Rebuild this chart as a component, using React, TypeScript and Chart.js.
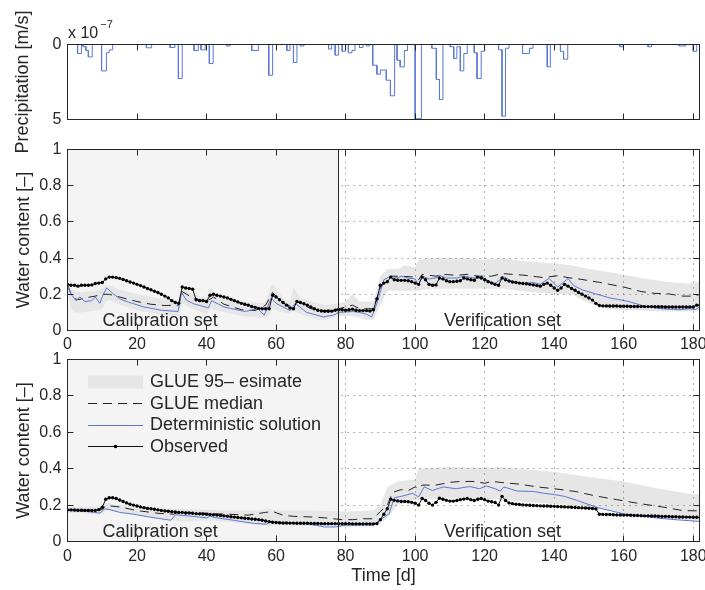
import React, { useEffect, useRef } from "react";
import { Chart, registerables } from "chart.js";

Chart.register(...registerables);

const FONT_FAMILY = "'Liberation Sans', Arial, Helvetica, sans-serif";
const INK = "#262626";
const BLUE = "#5a78d4";
const BAND = "#e6e6e6";
const CAL_BG = "#f4f4f4";
const GRID = "rgba(60,60,60,0.75)";

const CANVAS_W = 705;
const CANVAS_H = 590;
const PLOT_LEFT = 67.5;
const RIGHT_PAD = 5.5;
const TICK = 6;

const PRECIP_AREA = { top: 44.5, bottom: 119.5 };
const MID_AREA = { top: 149.5, bottom: 330.5 };
const BOT_AREA = { top: 359.5, bottom: 541.5 };

// ---------- axes / labels ----------
const X_MAX = 181.8;
const CAL_END_DAY = 78;
const X_TICKS = [0, 20, 40, 60, 80, 100, 120, 140, 160, 180];
const X_GRID = [80, 100, 120, 140, 160, 180];
const Y_TICKS = [0, 0.2, 0.4, 0.6, 0.8, 1];
const Y_GRID = [0.2, 0.4, 0.6, 0.8];
const PRECIP_TICKS = [0, 5];

const PRECIP_TITLE = "Precipitation [m/s]";
const PRECIP_EXP_BASE = "x 10";
const PRECIP_EXP = "\u22127";
const WATER_TITLE = "Water content [\u2013]";
const TIME_TITLE = "Time [d]";
const CAL_LABEL = "Calibration set";
const VER_LABEL = "Verification set";
const LEGEND_LABELS = ["GLUE 95\u2013 esimate", "GLUE median", "Deterministic solution", "Observed"];

// ---------- precipitation (x 1e-7 m/s) ----------
const precipStart = [2.9, 4.5, 5.3, 6.0, 9.8, 11.2, 12.0, 22.7, 29.5, 31.9, 36.4, 38.4, 40.8, 45.8, 53.0, 57.9, 63.1, 65.0, 67.0, 75.1, 77.0, 79.0, 80.8, 81.8, 84.0, 86.0, 87.8, 89.0, 90.0, 91.7, 92.9, 94.8, 95.7, 96.9, 100.0, 104.8, 106.1, 107.0, 110.1, 111.1, 112.0, 113.0, 114.0, 117.0, 117.8, 119.0, 124.0, 125.0, 126.0, 130.9, 132.9, 138.0, 141.8, 142.7, 158.9, 167.0, 175.9, 180.0];
const precipEnd = [4.0, 5.3, 6.0, 7.1, 11.2, 12.0, 13.0, 24.2, 30.9, 33.0, 37.6, 39.6, 41.9, 46.8, 54.9, 59.0, 64.0, 66.0, 68.0, 76.0, 78.0, 80.0, 81.8, 82.7, 85.0, 86.9, 89.0, 90.0, 91.7, 92.9, 94.1, 95.7, 96.9, 97.8, 101.8, 106.1, 107.0, 108.0, 111.1, 112.0, 113.0, 114.0, 115.0, 117.8, 119.0, 120.0, 125.0, 126.0, 127.0, 132.9, 133.9, 138.9, 142.7, 143.9, 159.8, 168.0, 177.8, 181.0];
const precipRate = [0.6, 0.15, 0.4, 0.83, 1.76, 0.55, 0.36, 0.22, 0.2, 2.27, 0.4, 0.35, 1.27, 0.1, 0.4, 2.05, 0.4, 1.2, 0.1, 0.3, 0.71, 0.45, 0.56, 0.4, 0.2, 0.1, 1.38, 1.98, 1.7, 2.38, 3.42, 1.05, 1.49, 0.4, 4.95, 0.25, 2.33, 3.67, 0.15, 0.93, 0.15, 1.76, 0.6, 0.55, 2.27, 0.45, 0.35, 4.78, 0.25, 0.6, 0.25, 1.49, 0.45, 0.98, 0.15, 0.15, 0.1, 0.45];
const PRECIP_END_DAY = 182;

// ---------- middle panel ----------
const midObserved = [
  0.255, 0.25, 0.25, 0.245, 0.25, 0.25, 0.25, 0.252, 0.26, 0.262,
  0.265, 0.285, 0.295, 0.295, 0.292, 0.288, 0.282, 0.275, 0.268, 0.262,
  0.255, 0.248, 0.24, 0.232, 0.225, 0.217, 0.21, 0.2, 0.19, 0.18,
  0.165, 0.155, 0.15, 0.24, 0.235, 0.232, 0.228, 0.17, 0.165, 0.165,
  0.16, 0.195, 0.2, 0.195, 0.19, 0.185, 0.18, 0.172, 0.165, 0.158,
  0.15, 0.145, 0.14, 0.133, 0.128, 0.122, 0.12, 0.12, 0.12, 0.195,
  0.185, 0.17, 0.155, 0.14, 0.125, 0.12, 0.16, 0.155, 0.148, 0.14,
  0.13, 0.12, 0.112, 0.108, 0.106, 0.106, 0.107, 0.112, 0.115, 0.115,
  0.112, 0.115, 0.118, 0.112, 0.11, 0.11, 0.11, 0.108, 0.115, 0.175,
  0.25, 0.262, 0.27, 0.295, 0.28, 0.278, 0.277, 0.277, 0.275, 0.27,
  0.262, 0.255, 0.295, 0.28, 0.255, 0.25, 0.252, 0.29, 0.285, 0.275,
  0.27, 0.27, 0.272, 0.275, 0.29, 0.285, 0.28, 0.278, 0.295, 0.29,
  0.28, 0.27, 0.262, 0.255, 0.25, 0.29, 0.28, 0.273, 0.268, 0.265,
  0.262, 0.26, 0.258, 0.255, 0.252, 0.248, 0.245, 0.255, 0.262, 0.25,
  0.235, 0.222, 0.235, 0.255, 0.245, 0.232, 0.222, 0.21, 0.2, 0.19,
  0.18, 0.168, 0.15, 0.138, 0.136, 0.136, 0.135, 0.135, 0.135, 0.134,
  0.134, 0.134, 0.133, 0.133, 0.133, 0.132, 0.132, 0.132, 0.132, 0.131,
  0.131, 0.131, 0.13, 0.13, 0.13, 0.13, 0.13, 0.13, 0.13, 0.13,
  0.13, 0.14, 0.14,
];
const midDetDays = [0, 1, 2.5, 3.5, 5, 7, 8, 9.3, 10.3, 11.3, 13, 15, 17.5, 22, 27, 31.8, 32.8, 34.2, 36.2, 40.5, 41.5, 45, 51, 54.7, 56.6, 58.6, 60, 64, 65.5, 68.8, 73.6, 76.5, 78, 82, 84, 86, 87.5, 89, 91, 93, 95, 96, 98, 100, 101, 102, 104, 106, 107, 109, 112, 114, 117, 119, 121, 123, 125.5, 128, 131, 134, 136, 138.5, 141, 144, 145.5, 148, 151.5, 156, 161, 166, 171, 176, 179, 180.5, 182];
const midDetVals = [0.25, 0.2, 0.165, 0.185, 0.16, 0.165, 0.185, 0.15, 0.2, 0.235, 0.205, 0.175, 0.157, 0.13, 0.112, 0.105, 0.21, 0.168, 0.148, 0.125, 0.165, 0.13, 0.105, 0.12, 0.085, 0.18, 0.15, 0.11, 0.15, 0.1, 0.075, 0.085, 0.1, 0.105, 0.1, 0.09, 0.075, 0.15, 0.28, 0.3, 0.29, 0.3, 0.29, 0.285, 0.25, 0.3, 0.285, 0.29, 0.305, 0.29, 0.29, 0.3, 0.29, 0.3, 0.275, 0.26, 0.297, 0.27, 0.26, 0.265, 0.255, 0.288, 0.24, 0.288, 0.25, 0.225, 0.205, 0.18, 0.162, 0.135, 0.12, 0.115, 0.12, 0.115, 0.13];
const midMedDays = [0, 1.5, 3, 5, 8, 10, 12, 14, 17, 20, 24, 28, 32, 33, 36, 40, 42, 45, 50, 54, 57, 59, 62, 65, 66, 70, 74, 78, 80, 82, 84, 88, 90, 93, 96, 100, 101, 102, 106, 108, 112, 115, 118, 122, 125, 128, 131, 135, 137, 141, 144, 148, 153, 160, 165, 169, 173, 177, 180, 182];
const midMedVals = [0.25, 0.18, 0.17, 0.18, 0.19, 0.2, 0.2, 0.19, 0.175, 0.16, 0.145, 0.138, 0.14, 0.215, 0.18, 0.16, 0.185, 0.145, 0.115, 0.11, 0.14, 0.21, 0.15, 0.13, 0.16, 0.12, 0.11, 0.12, 0.13, 0.14, 0.12, 0.12, 0.24, 0.3, 0.3, 0.295, 0.28, 0.31, 0.3, 0.31, 0.305, 0.31, 0.3, 0.3, 0.315, 0.31, 0.306, 0.297, 0.292, 0.303, 0.292, 0.282, 0.266, 0.24, 0.215, 0.205, 0.202, 0.19, 0.19, 0.2];
const midBandDays = [0, 1, 2, 4, 8, 10, 11, 12, 14, 20, 26, 31, 32, 33, 36, 40, 41, 43, 50, 56, 57, 58, 59, 62, 64, 65, 67, 72, 74, 78, 80, 82, 84, 86, 88, 90, 92, 95, 97, 100, 101, 104, 110, 115, 120, 125, 130, 140, 145, 150, 155, 158, 165, 172, 178, 182];
const midBandUpper = [0.26, 0.23, 0.22, 0.21, 0.22, 0.23, 0.25, 0.25, 0.23, 0.2, 0.18, 0.17, 0.17, 0.24, 0.2, 0.18, 0.24, 0.2, 0.16, 0.15, 0.16, 0.22, 0.26, 0.18, 0.16, 0.24, 0.18, 0.15, 0.14, 0.15, 0.16, 0.2, 0.16, 0.16, 0.16, 0.3, 0.34, 0.34, 0.36, 0.35, 0.39, 0.4, 0.4, 0.4, 0.39, 0.4, 0.385, 0.37, 0.36, 0.34, 0.325, 0.315, 0.29, 0.27, 0.26, 0.27];
const midBandLower = [0.22, 0.12, 0.1, 0.1, 0.11, 0.12, 0.16, 0.17, 0.15, 0.11, 0.09, 0.08, 0.08, 0.15, 0.12, 0.09, 0.12, 0.11, 0.08, 0.07, 0.07, 0.08, 0.12, 0.1, 0.09, 0.11, 0.09, 0.06, 0.06, 0.08, 0.08, 0.08, 0.07, 0.06, 0.06, 0.14, 0.22, 0.22, 0.22, 0.22, 0.22, 0.23, 0.23, 0.23, 0.23, 0.23, 0.22, 0.2, 0.2, 0.15, 0.12, 0.115, 0.11, 0.105, 0.105, 0.11];

// ---------- bottom panel ----------
const botObserved = [
  0.174, 0.174, 0.173, 0.172, 0.172, 0.171, 0.17, 0.17, 0.171, 0.175,
  0.188, 0.232, 0.24, 0.24, 0.236, 0.228, 0.22, 0.212, 0.205, 0.2,
  0.195, 0.19, 0.186, 0.182, 0.18, 0.177, 0.174, 0.171, 0.168, 0.166,
  0.164, 0.162, 0.16, 0.159, 0.157, 0.157, 0.155, 0.153, 0.152, 0.151,
  0.15, 0.148, 0.147, 0.145, 0.143, 0.141, 0.139, 0.136, 0.134, 0.132,
  0.13, 0.128, 0.126, 0.124, 0.122, 0.12, 0.117, 0.113, 0.109, 0.106,
  0.104, 0.103, 0.102, 0.102, 0.101, 0.101, 0.1, 0.1, 0.1, 0.1,
  0.099, 0.099, 0.099, 0.098, 0.098, 0.098, 0.098, 0.098, 0.098, 0.098,
  0.098, 0.098, 0.097, 0.097, 0.097, 0.097, 0.097, 0.097, 0.097, 0.098,
  0.12, 0.15, 0.18, 0.232, 0.226, 0.223, 0.22, 0.22, 0.218, 0.215,
  0.21, 0.2, 0.236, 0.225, 0.21, 0.2, 0.215, 0.238, 0.232, 0.226,
  0.222, 0.222, 0.225, 0.23, 0.233, 0.236, 0.23, 0.225, 0.232, 0.236,
  0.23, 0.222, 0.218, 0.214, 0.2, 0.248, 0.225, 0.212, 0.208, 0.205,
  0.203, 0.201, 0.2, 0.199, 0.198, 0.197, 0.196, 0.195, 0.195, 0.194,
  0.193, 0.192, 0.191, 0.19, 0.189, 0.188, 0.187, 0.186, 0.185, 0.184,
  0.183, 0.181, 0.179, 0.15, 0.149, 0.148, 0.148, 0.147, 0.146, 0.146,
  0.145, 0.145, 0.144, 0.143, 0.143, 0.142, 0.141, 0.141, 0.14, 0.14,
  0.139, 0.138, 0.138, 0.137, 0.136, 0.136, 0.135, 0.135, 0.134, 0.134,
  0.133, 0.133, 0.132,
];
const botDetDays = [0, 5.5, 9.3, 10.8, 12.2, 15, 19, 23.7, 29.7, 31.1, 35, 38, 40, 41, 42, 47.7, 53.4, 57.3, 58.3, 62, 69, 74, 77, 80, 88, 89.6, 92.5, 94, 96.4, 99.2, 101, 102.6, 105, 108, 111.8, 115.7, 118.5, 120.5, 123, 124.5, 125.5, 129.4, 134, 137, 140, 143, 146.7, 152.3, 160, 170, 175.5, 182];
const botDetVals = [0.17, 0.165, 0.156, 0.18, 0.175, 0.16, 0.15, 0.134, 0.117, 0.147, 0.14, 0.134, 0.13, 0.14, 0.133, 0.117, 0.1, 0.095, 0.108, 0.1, 0.097, 0.08, 0.08, 0.09, 0.09, 0.115, 0.152, 0.24, 0.25, 0.265, 0.245, 0.3, 0.28, 0.3, 0.29, 0.302, 0.29, 0.305, 0.29, 0.277, 0.3, 0.277, 0.275, 0.265, 0.258, 0.248, 0.225, 0.187, 0.152, 0.128, 0.119, 0.11];
const botMedDays = [0, 10, 11, 15, 20, 26, 30.5, 32, 35, 40, 43, 46, 52, 57, 59, 62, 65, 70, 74, 79, 82, 85, 88, 90, 92, 93.5, 96, 98, 100, 101, 102, 106, 110, 113, 117, 120, 122, 126, 130, 135, 140, 146, 152, 158, 164, 171, 177, 182];
const botMedVals = [0.17, 0.175, 0.198, 0.19, 0.17, 0.155, 0.15, 0.162, 0.16, 0.155, 0.152, 0.15, 0.145, 0.16, 0.165, 0.145, 0.138, 0.135, 0.13, 0.12, 0.12, 0.125, 0.125, 0.165, 0.2, 0.27, 0.285, 0.28, 0.3, 0.29, 0.31, 0.31, 0.325, 0.33, 0.33, 0.32, 0.33, 0.322, 0.315, 0.3, 0.29, 0.275, 0.25, 0.23, 0.21, 0.19, 0.17, 0.168];
const botBandDays = [0, 10, 11, 15, 25, 33, 40, 45, 55, 58, 60, 70, 80, 88, 90, 92, 95, 100, 101, 110, 120, 125, 130, 141, 150, 160, 170, 180, 182];
const botBandUpper = [0.19, 0.19, 0.21, 0.2, 0.18, 0.18, 0.175, 0.17, 0.17, 0.18, 0.17, 0.17, 0.165, 0.17, 0.2, 0.3, 0.33, 0.34, 0.4, 0.41, 0.405, 0.41, 0.4, 0.38, 0.355, 0.33, 0.29, 0.26, 0.26];
const botBandLower = [0.16, 0.15, 0.17, 0.16, 0.13, 0.11, 0.115, 0.11, 0.09, 0.085, 0.09, 0.085, 0.08, 0.085, 0.1, 0.13, 0.2, 0.23, 0.23, 0.235, 0.235, 0.23, 0.22, 0.205, 0.19, 0.155, 0.13, 0.115, 0.115];

// text anchor positions in data units
const CAL_LABEL_POS = { x: 10.1, y: 0.027 };
const VER_LABEL_POS = { x: 108.3, y: 0.027 };

// ---------- helpers ----------
const pairs = (xs: number[], ys: number[]) => xs.map((x, i) => ({ x, y: ys[i] }));
const daily = (vals: number[]) => vals.map((y, i) => ({ x: i, y }));

function stairs(starts: number[], ends: number[], vals: number[], endDay: number) {
  const pts: { x: number; y: number }[] = [{ x: 0, y: 0 }];
  let prevEnd = 0;
  let cur = 0;
  for (let i = 0; i < starts.length; i++) {
    const s = starts[i];
    if (Math.abs(s - prevEnd) > 1e-6) {
      if (cur !== 0) {
        pts.push({ x: prevEnd, y: cur });
        pts.push({ x: prevEnd, y: 0 });
      }
      pts.push({ x: s, y: 0 });
      pts.push({ x: s, y: vals[i] });
    } else {
      pts.push({ x: s, y: cur });
      pts.push({ x: s, y: vals[i] });
    }
    cur = vals[i];
    prevEnd = ends[i];
  }
  pts.push({ x: prevEnd, y: cur });
  pts.push({ x: prevEnd, y: 0 });
  pts.push({ x: endDay, y: 0 });
  return pts;
}

const snap = (v: number) => Math.round(v - 0.5) + 0.5;
const font = (size: number) => ({ size, family: FONT_FAMILY });

function xScale(area: { bottom: number }, showLabels: boolean, labelPad: number, title?: string) {
  return {
    type: "linear",
    position: "bottom",
    min: 0,
    max: X_MAX,
    grid: { display: false, drawTicks: false },
    border: { display: false },
    ticks: {
      display: showLabels,
      stepSize: 20,
      includeBounds: false,
      autoSkip: false,
      maxRotation: 0,
      minRotation: 0,
      padding: labelPad,
      color: INK,
      font: font(16),
      callback: (v: number) => String(v),
    },
    title: title
      ? { display: true, text: title, color: INK, font: font(18), padding: { top: 0, bottom: 3 } }
      : { display: false },
    afterFit: (s: any) => {
      s.height = CANVAS_H - area.bottom;
      s.paddingLeft = 0;
      s.paddingRight = 0;
    },
  };
}

function yScale(min: number, max: number, step: number, reverse: boolean, title?: string) {
  return {
    type: "linear",
    position: "left",
    min,
    max,
    reverse,
    grid: { display: false, drawTicks: false },
    border: { display: false },
    ticks: {
      stepSize: step,
      padding: 6,
      color: INK,
      font: font(16),
      callback: (v: number) => String(Math.round(v * 10) / 10),
    },
    title: title
      ? { display: true, text: title, color: INK, font: font(18), padding: { top: 13, bottom: 0 } }
      : { display: false },
    afterFit: (s: any) => {
      s.width = PLOT_LEFT;
      s.paddingTop = 0;
      s.paddingBottom = 0;
    },
  };
}

function frame(chart: any, yTicks: number[], withGrid: boolean) {
  const { ctx, chartArea: a } = chart;
  const x = chart.scales.x;
  const y = chart.scales.y;
  const L = a.left, R = a.right, T = a.top, B = a.bottom;
  ctx.save();
  if (withGrid) {
    const xc = snap(x.getPixelForValue(CAL_END_DAY));
    ctx.strokeStyle = GRID;
    ctx.lineWidth = 1;
    ctx.setLineDash([1, 5]);
    ctx.beginPath();
    for (const t of X_GRID) {
      const px = snap(x.getPixelForValue(t));
      ctx.moveTo(px, T);
      ctx.lineTo(px, B);
    }
    for (const t of Y_GRID) {
      const py = snap(y.getPixelForValue(t));
      ctx.moveTo(xc + 3, py);
      ctx.lineTo(R, py);
    }
    ctx.stroke();
    ctx.setLineDash([]);
    ctx.strokeStyle = INK;
    ctx.beginPath();
    ctx.moveTo(xc, T);
    ctx.lineTo(xc, B);
    ctx.stroke();
  }
  ctx.setLineDash([]);
  ctx.strokeStyle = INK;
  ctx.lineWidth = 1;
  ctx.strokeRect(L, T, R - L, B - T);
  ctx.beginPath();
  for (const t of X_TICKS) {
    const px = snap(x.getPixelForValue(t));
    ctx.moveTo(px, B);
    ctx.lineTo(px, B - TICK);
    ctx.moveTo(px, T);
    ctx.lineTo(px, T + TICK);
  }
  for (const t of yTicks) {
    const py = snap(y.getPixelForValue(t));
    ctx.moveTo(L, py);
    ctx.lineTo(L + TICK, py);
    ctx.moveTo(R, py);
    ctx.lineTo(R - TICK, py);
  }
  ctx.stroke();
  ctx.restore();
}

function setLabels(chart: any) {
  const { ctx } = chart;
  const x = chart.scales.x;
  const y = chart.scales.y;
  ctx.save();
  ctx.fillStyle = INK;
  ctx.font = `18px ${FONT_FAMILY}`;
  ctx.textAlign = "left";
  ctx.textBaseline = "alphabetic";
  ctx.fillText(CAL_LABEL, x.getPixelForValue(CAL_LABEL_POS.x), y.getPixelForValue(CAL_LABEL_POS.y));
  ctx.fillText(VER_LABEL, x.getPixelForValue(VER_LABEL_POS.x), y.getPixelForValue(VER_LABEL_POS.y));
  ctx.restore();
}

function calibrationBackground(chart: any) {
  const { ctx, chartArea: a } = chart;
  const xc = snap(chart.scales.x.getPixelForValue(CAL_END_DAY));
  ctx.save();
  ctx.fillStyle = CAL_BG;
  ctx.fillRect(a.left, a.top, xc - a.left, a.bottom - a.top);
  ctx.restore();
}

function drawLegend(chart: any) {
  const { ctx, chartArea: a } = chart;
  const x0 = a.left + 20.5;
  const x1 = a.left + 75.5;
  const tx = a.left + 82.5;
  const rows = [a.top + 22.5, a.top + 44, a.top + 65.5, a.top + 87];
  ctx.save();
  // band patch
  ctx.fillStyle = BAND;
  ctx.fillRect(x0, rows[0] - 6.5, x1 - x0, 13);
  // median
  ctx.strokeStyle = "#222";
  ctx.lineWidth = 1;
  ctx.setLineDash([9, 6]);
  ctx.beginPath();
  ctx.moveTo(x0, snap(rows[1]));
  ctx.lineTo(x1, snap(rows[1]));
  ctx.stroke();
  ctx.setLineDash([]);
  // deterministic
  ctx.strokeStyle = BLUE;
  ctx.beginPath();
  ctx.moveTo(x0, snap(rows[2]));
  ctx.lineTo(x1, snap(rows[2]));
  ctx.stroke();
  // observed
  ctx.strokeStyle = "#111";
  ctx.beginPath();
  ctx.moveTo(x0, snap(rows[3]));
  ctx.lineTo(x1, snap(rows[3]));
  ctx.stroke();
  ctx.fillStyle = "#000";
  ctx.beginPath();
  ctx.arc((x0 + x1) / 2, snap(rows[3]), 1.8, 0, Math.PI * 2);
  ctx.fill();
  // labels
  ctx.fillStyle = INK;
  ctx.font = `18px ${FONT_FAMILY}`;
  ctx.textAlign = "left";
  ctx.textBaseline = "middle";
  LEGEND_LABELS.forEach((lab, i) => ctx.fillText(lab, tx, rows[i] + 0.5));
  ctx.restore();
}

function baseOptions(area: { top: number }, scales: any) {
  return {
    responsive: false,
    animation: false,
    events: [],
    layout: { padding: { top: area.top, left: 0, right: RIGHT_PAD, bottom: 0 } },
    plugins: { legend: { display: false }, tooltip: { enabled: false } },
    scales,
  };
}

function waterDatasets(
  obs: number[],
  detDays: number[],
  detVals: number[],
  medDays: number[],
  medVals: number[],
  bandDays: number[],
  bandUp: number[],
  bandLo: number[]
) {
  return [
    {
      label: "Observed",
      data: daily(obs),
      borderColor: "#111",
      borderWidth: 1,
      pointRadius: 1.7,
      pointHoverRadius: 0,
      pointBackgroundColor: "#000",
      pointBorderColor: "#000",
      pointBorderWidth: 0,
      fill: false,
    },
    {
      label: "Deterministic solution",
      data: pairs(detDays, detVals),
      borderColor: BLUE,
      borderWidth: 1,
      pointRadius: 0,
      fill: false,
    },
    {
      label: "GLUE median",
      data: pairs(medDays, medVals),
      borderColor: "#222",
      borderWidth: 1,
      borderDash: [9, 6],
      pointRadius: 0,
      fill: false,
    },
    {
      label: "GLUE 95 upper",
      data: pairs(bandDays, bandUp),
      borderColor: "rgba(0,0,0,0)",
      borderWidth: 0,
      backgroundColor: BAND,
      pointRadius: 0,
      fill: "+1",
    },
    {
      label: "GLUE 95 lower",
      data: pairs(bandDays, bandLo),
      borderColor: "rgba(0,0,0,0)",
      borderWidth: 0,
      pointRadius: 0,
      fill: false,
    },
  ];
}

function precipConfig(): any {
  return {
    type: "line",
    data: {
      datasets: [
        {
          label: "Precipitation",
          data: stairs(precipStart, precipEnd, precipRate, PRECIP_END_DAY),
          borderColor: BLUE,
          borderWidth: 1,
          pointRadius: 0,
          fill: false,
        },
      ],
    },
    options: baseOptions(PRECIP_AREA, {
      x: xScale(PRECIP_AREA, false, 0),
      y: yScale(0, 5, 5, true),
    }),
    plugins: [
      {
        id: "precipDecor",
        afterDatasetsDraw(chart: any) {
          frame(chart, PRECIP_TICKS, false);
          const { ctx, chartArea: a } = chart;
          ctx.save();
          ctx.fillStyle = INK;
          ctx.textAlign = "left";
          ctx.textBaseline = "alphabetic";
          ctx.font = `16px ${FONT_FAMILY}`;
          ctx.fillText(PRECIP_EXP_BASE, a.left + 0.5, a.top - 7);
          const w = ctx.measureText(PRECIP_EXP_BASE).width;
          ctx.font = `11px ${FONT_FAMILY}`;
          ctx.fillText(PRECIP_EXP, a.left + 2.5 + w, a.top - 16.5);
          ctx.translate(23.5, (a.top + a.bottom) / 2);
          ctx.rotate(-Math.PI / 2);
          ctx.font = `18px ${FONT_FAMILY}`;
          ctx.textAlign = "center";
          ctx.textBaseline = "middle";
          ctx.fillText(PRECIP_TITLE, 0, 0);
          ctx.restore();
        },
      },
    ],
  };
}

function midConfig(): any {
  return {
    type: "line",
    data: {
      datasets: waterDatasets(midObserved, midDetDays, midDetVals, midMedDays, midMedVals, midBandDays, midBandUpper, midBandLower),
    },
    options: baseOptions(MID_AREA, {
      x: xScale(MID_AREA, true, 4),
      y: yScale(0, 1, 0.2, false, WATER_TITLE),
    }),
    plugins: [
      {
        id: "midDecor",
        beforeDatasetsDraw(chart: any) {
          calibrationBackground(chart);
        },
        afterDatasetsDraw(chart: any) {
          frame(chart, Y_TICKS, true);
          setLabels(chart);
        },
      },
    ],
  };
}

function botConfig(): any {
  return {
    type: "line",
    data: {
      datasets: waterDatasets(botObserved, botDetDays, botDetVals, botMedDays, botMedVals, botBandDays, botBandUpper, botBandLower),
    },
    options: baseOptions(BOT_AREA, {
      x: xScale(BOT_AREA, true, 5, TIME_TITLE),
      y: yScale(0, 1, 0.2, false, WATER_TITLE),
    }),
    plugins: [
      {
        id: "botDecor",
        beforeDatasetsDraw(chart: any) {
          calibrationBackground(chart);
        },
        afterDatasetsDraw(chart: any) {
          frame(chart, Y_TICKS, true);
          setLabels(chart);
          drawLegend(chart);
        },
      },
    ],
  };
}

function ChartLayer({ makeConfig }: { makeConfig: () => any }) {
  const ref = useRef<HTMLCanvasElement | null>(null);
  useEffect(() => {
    if (!ref.current) return;
    const chart = new Chart(ref.current, makeConfig());
    return () => chart.destroy();
  }, [makeConfig]);
  return (
    <canvas
      ref={ref}
      width={CANVAS_W}
      height={CANVAS_H}
      style={{ position: "absolute", left: 0, top: 0, width: CANVAS_W, height: CANVAS_H }}
    />
  );
}

export default function App() {
  return (
    <div
      style={{
        position: "fixed",
        left: 0,
        top: 0,
        width: CANVAS_W,
        height: CANVAS_H,
        background: "#ffffff",
        overflow: "hidden",
      }}
    >
      <ChartLayer makeConfig={precipConfig} />
      <ChartLayer makeConfig={midConfig} />
      <ChartLayer makeConfig={botConfig} />
    </div>
  );
}
